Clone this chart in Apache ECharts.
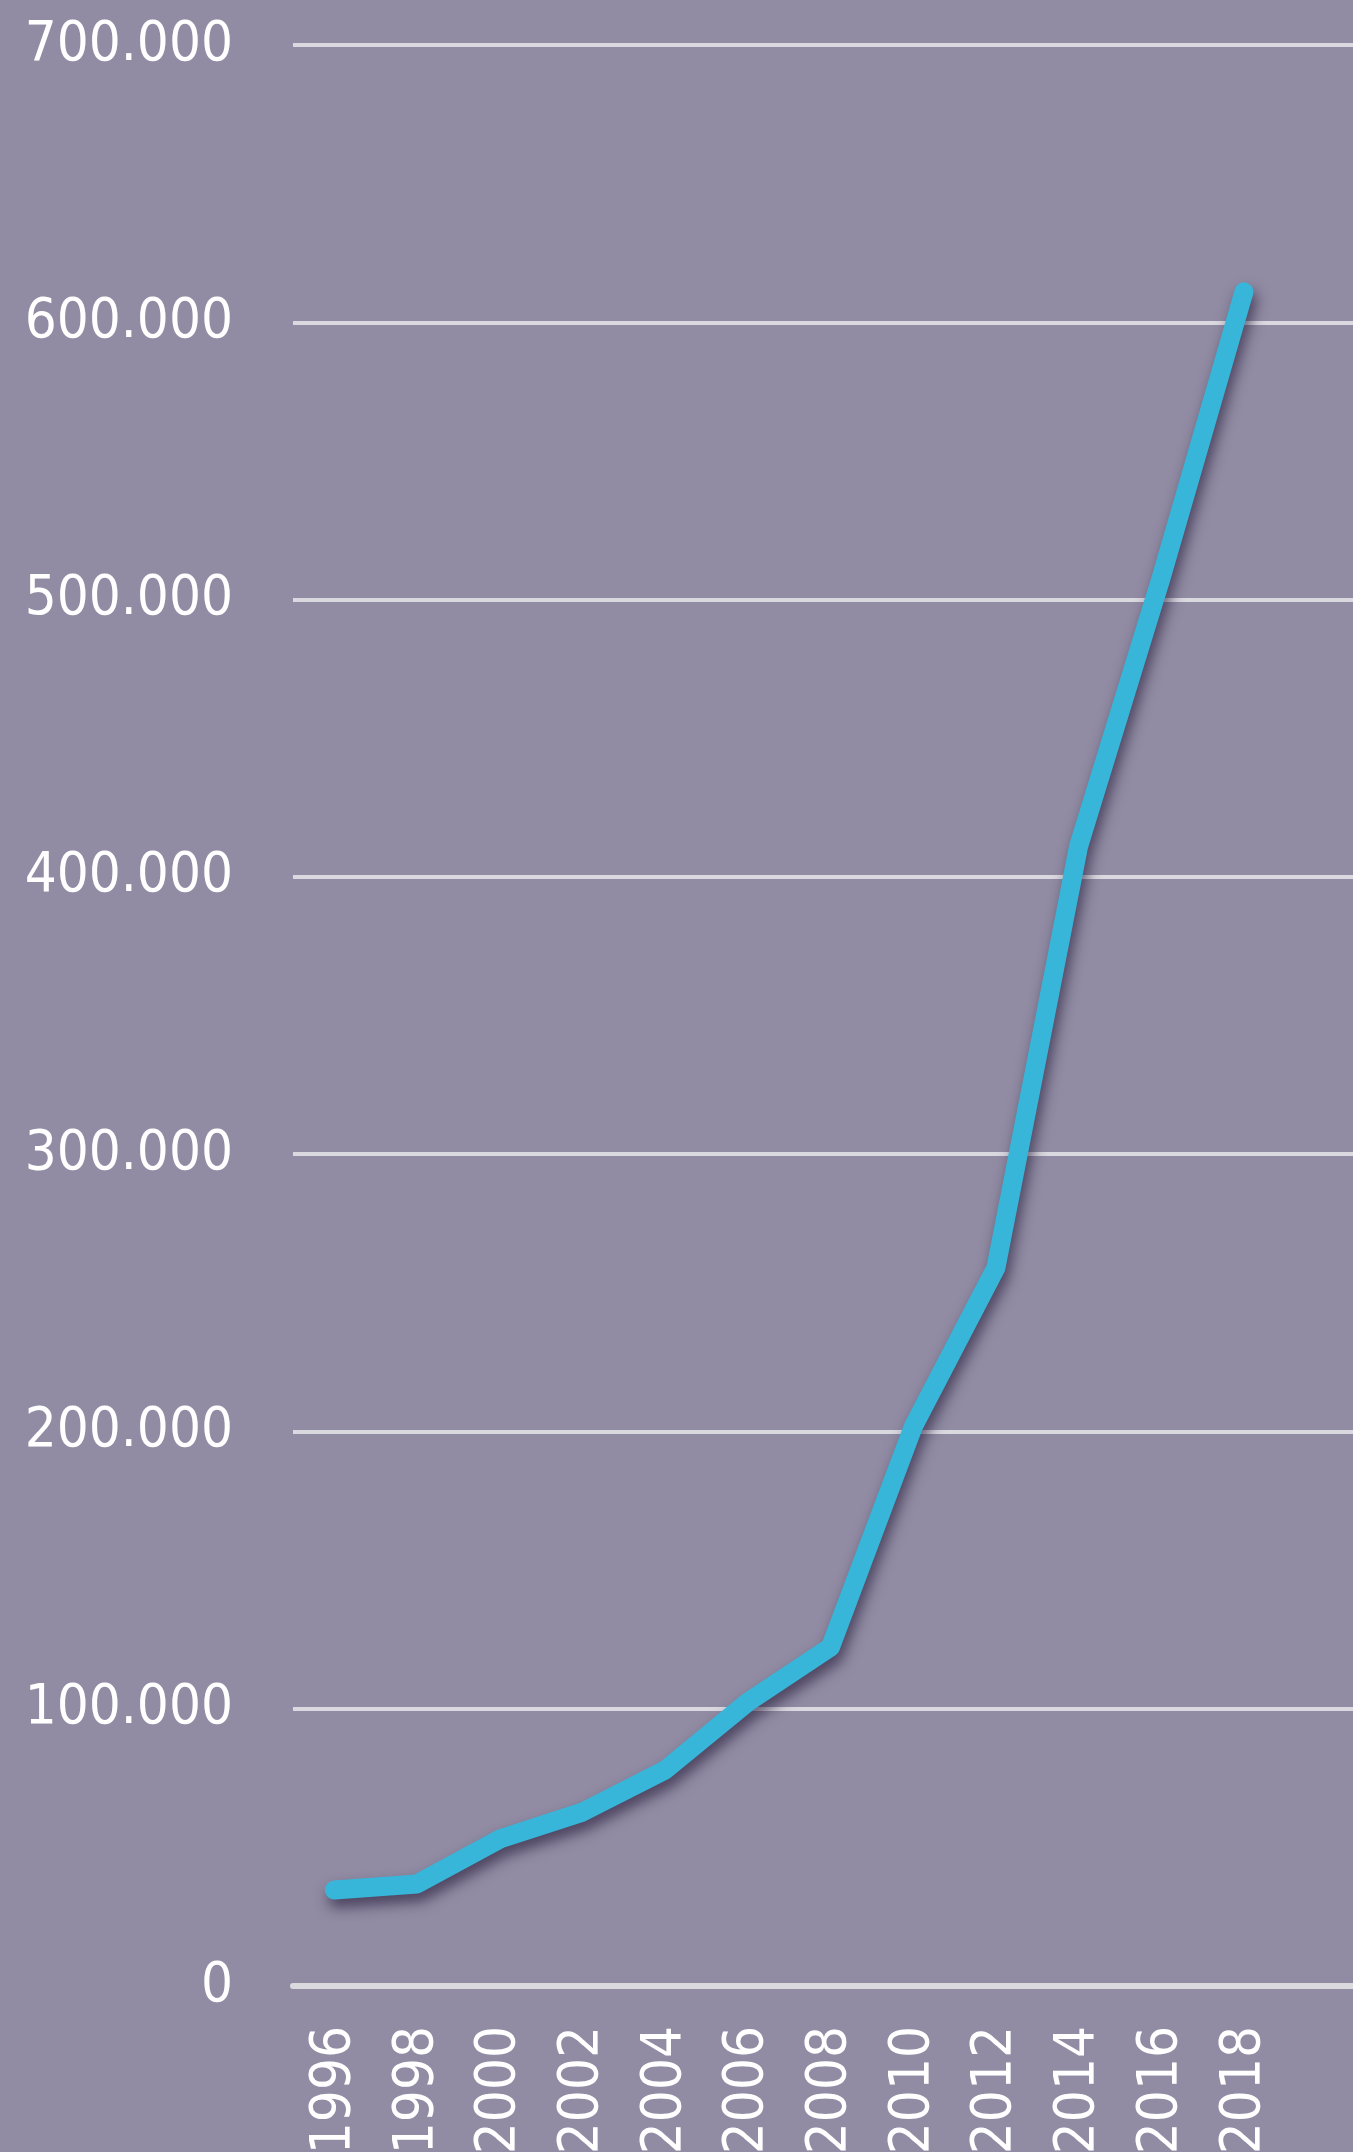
<!DOCTYPE html>
<html>
<head>
<meta charset="utf-8">
<script src="https://cdn.jsdelivr.net/npm/echarts@6/dist/echarts.min.js"></script>
<style>
  html, body { margin: 0; padding: 0; background: #918CA4; }
  #chart { width: 1353px; height: 2152px; }
</style>
</head>
<body>
<div id="chart"></div>
<script>
// Data
const years = ['1996', '1998', '2000', '2002', '2004', '2006', '2008', '2010', '2012', '2014', '2016', '2018'];
const values = [34600, 36800, 53000, 62700, 77900, 102400, 122200, 201600, 259000, 411000, 508000, 611000];
const yTicks = [0, 100000, 200000, 300000, 400000, 500000, 600000, 700000];

const FONT = "'DejaVu Sans Condensed', 'DejaVu Sans', sans-serif";

function fmt(v) {
  if (v === 0) return '0';
  return Math.round(v / 1000) + '.000';
}

const chart = echarts.init(document.getElementById('chart'), null, { renderer: 'canvas' });
chart.setOption({
  backgroundColor: '#918CA4',
  animation: false,
  grid: { left: 293, right: -15, top: 45, bottom: 166, containLabel: false, outerBoundsMode: 'none' },
  xAxis: {
    type: 'category',
    boundaryGap: true,
    data: years.concat(['']),
    axisLine: { show: true, lineStyle: { color: '#DADADE', width: 6 } },
    axisTick: { show: false },
    axisLabel: {
      interval: 0,
      rotate: 90,
      margin: 40,
      color: '#FFFFFF',
      fontSize: 56,
      fontFamily: FONT
    },
    splitLine: { show: false }
  },
  yAxis: {
    type: 'value',
    min: yTicks[0],
    max: yTicks[yTicks.length - 1],
    interval: yTicks[1] - yTicks[0],
    axisLine: { show: false },
    axisTick: { show: false },
    axisLabel: {
      margin: 60,
      color: '#FFFFFF',
      fontSize: 56,
      fontFamily: FONT,
      formatter: fmt
    },
    splitLine: { show: true, lineStyle: { color: '#DAD9E0', width: 4 } }
  },
  series: [{
    type: 'line',
    data: values,
    symbol: 'none',
    lineStyle: {
      color: '#37B6DA',
      width: 19,
      cap: 'round',
      join: 'round',
      shadowColor: 'rgba(35,25,55,0.65)',
      shadowBlur: 14,
      shadowOffsetX: 3,
      shadowOffsetY: 8
    }
  }]
});
</script>
</body>
</html>
